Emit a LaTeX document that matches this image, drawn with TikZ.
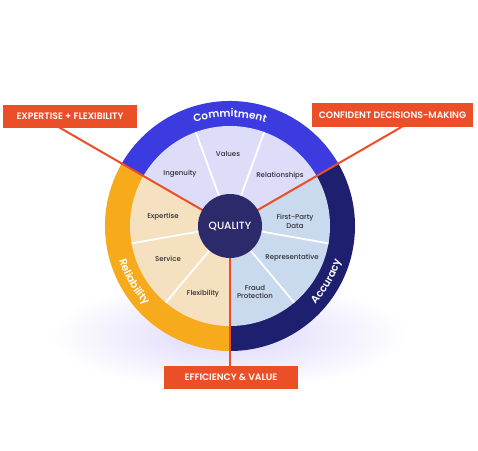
\documentclass[tikz,border=0pt]{standalone}
\usepackage{fontspec}
\setmainfont{Poppins}
\newfontfamily\medfont{Poppins Medium}
\newfontfamily\semifont{Poppins SemiBold}
\usetikzlibrary{decorations.text,calc}
\definecolor{commitc}{HTML}{3B3BE0}
\definecolor{accc}{HTML}{1F1F70}
\definecolor{relc}{HTML}{F6AA1C}
\definecolor{commitw}{HTML}{DDDCF9}
\definecolor{accw}{HTML}{C9D9EE}
\definecolor{relw}{HTML}{F5E0BF}
\definecolor{centerc}{HTML}{2D2A6B}
\definecolor{orangec}{HTML}{EA4F27}
\definecolor{glowc}{HTML}{DCD6FB}
\definecolor{labc}{HTML}{2E2E36}
\begin{document}
\begin{tikzpicture}[x=1pt,y=1pt,
  lbl/.style={fill=orangec, text=white, font=\semifont\fontsize{9.3}{11}\selectfont, inner sep=0pt, minimum height=23pt},
  wl/.style={text=labc, font=\medfont\fontsize{7}{8.7}\selectfont, align=center, inner sep=0pt},
  conn/.style={draw=orangec, line width=2pt},
  sep/.style={draw=white, line width=1.8pt}]
\useasboundingbox (0,0) rectangle (478,450);
\begin{scope}
\clip (0,0) rectangle (478,450);
\shade[inner color=glowc, outer color=white] (228,115) ellipse (180 and 55);
\end{scope}
\coordinate (c) at (230,224);
\begin{scope}[shift={(c)}]
% ring
\fill[commitc] (0,0) -- (30:125) arc[start angle=30, end angle=150, radius=125] -- cycle;
\fill[relc] (0,0) -- (150:125) arc[start angle=150, end angle=270, radius=125] -- cycle;
\fill[accc] (0,0) -- (270:125) arc[start angle=270, end angle=390, radius=125] -- cycle;
% wedges
\fill[commitw] (0,0) -- (30:100) arc[start angle=30, end angle=150, radius=100] -- cycle;
\fill[relw] (0,0) -- (150:100) arc[start angle=150, end angle=270, radius=100] -- cycle;
\fill[accw] (0,0) -- (270:100) arc[start angle=270, end angle=390, radius=100] -- cycle;
\foreach \a in {70,110,190,230,-10,-50} \draw[sep] (0,0) -- (\a:100);
% ring texts
\path[decorate, decoration={text along path, text align=center,
  text={|\color{white}\semifont\fontsize{10.5}{12}\selectfont|Commitment}}]
  (150:109) arc[start angle=150, end angle=30, radius=109];
\path[decorate, decoration={text along path, text align=center,
  text={|\color{white}\semifont\fontsize{10.5}{12}\selectfont|Reliability}}]
  (150:116) arc[start angle=150, end angle=270, radius=116];
\path[decorate, decoration={text along path, text align=center,
  text={|\color{white}\semifont\fontsize{10.5}{12}\selectfont|Accuracy}}]
  (-90:116) arc[start angle=-90, end angle=30, radius=116];
\end{scope}
% wedge labels
\node[wl] (values) at (228,296) {Values};
\node[wl] (ingen) at (180,276) {Ingenuity};
\node[wl] (relat) at (280,274) {Relationships};
\node[wl] (exper) at (163,233) {Expertise};
\node[wl] (serv) at (168,191) {Service};
\node[wl] (flex) at (203,156) {Flexibility};
\node[wl] (fpd) at (295,229) {First-Party\\Data};
\node[wl] (repr) at (292,192) {Representative};
\node[wl] (fraud) at (255,158) {Fraud\\Protection};
% connectors
\path (c) ++(150:200) coordinate (e1);
\path (c) ++(30:200) coordinate (e2);
\path (c) ++(270:145) coordinate (e3);
\draw[conn] (e1) -- (c);
\draw[conn] (e2) -- (c);
\draw[conn] (e3) -- (c);
% center
\node[circle, fill=centerc, minimum size=64pt, inner sep=0pt, text=white, font=\medfont\fontsize{10.5}{12}\selectfont] (q) at (c) {QUALITY};
% label boxes
\node[lbl, minimum width=134pt] (b1) at (70,333.5) {EXPERTISE + FLEXIBILITY};
\node[lbl, minimum width=161pt, minimum height=24pt] (b2) at (392.5,335) {CONFIDENT DECISIONS-MAKING};
\node[lbl, minimum width=134pt] (b3) at (231,72.5) {EFFICIENCY \& VALUE};
\end{tikzpicture}
\end{document}
